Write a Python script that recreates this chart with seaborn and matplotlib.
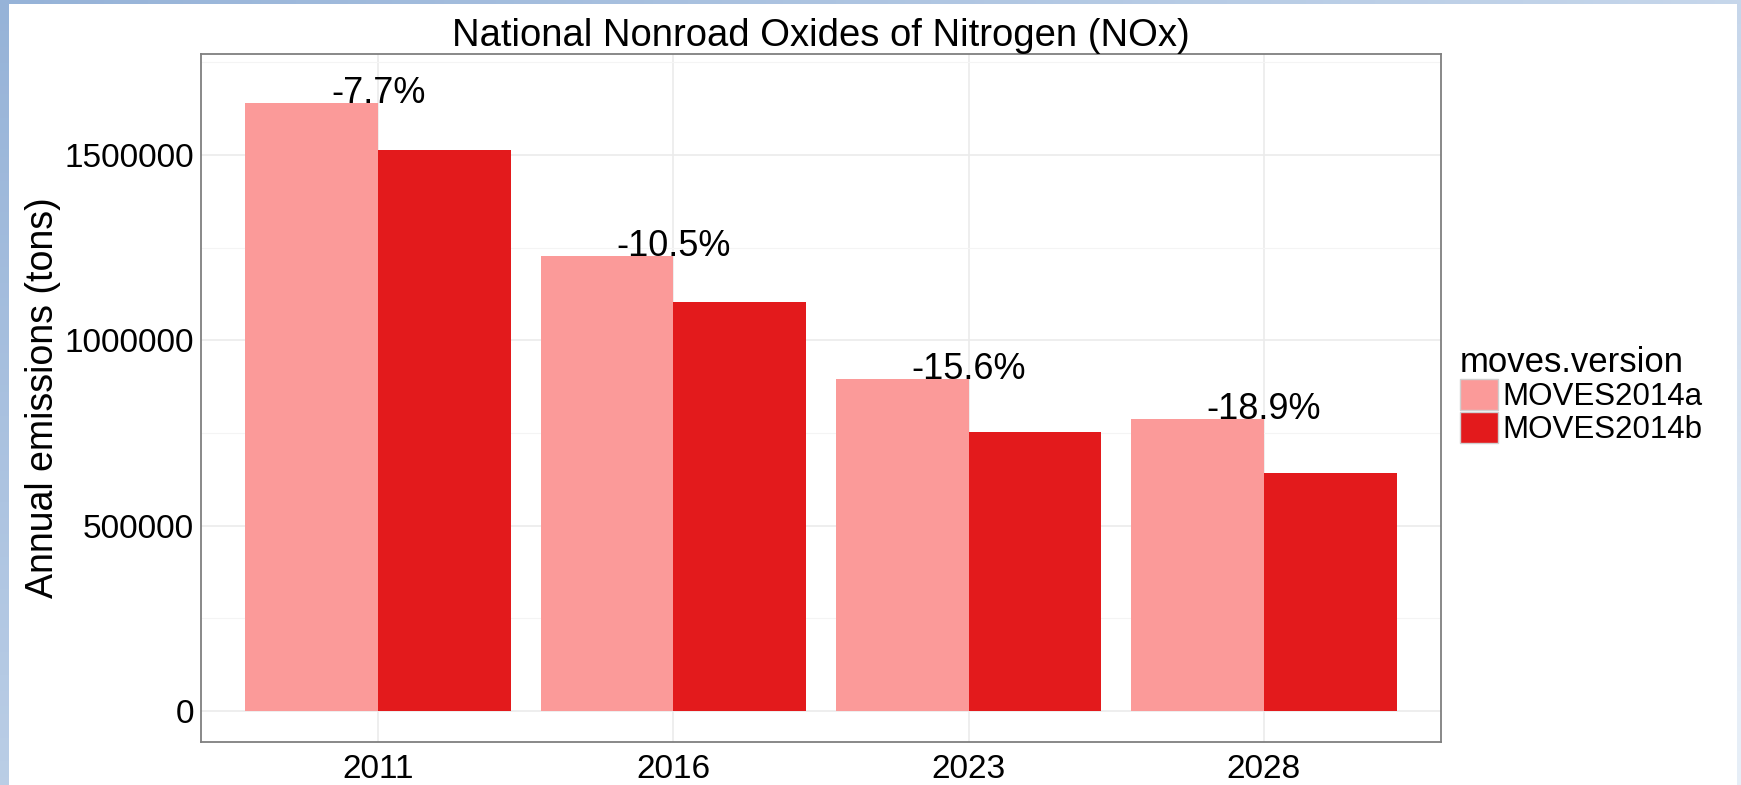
import numpy as np
import pandas as pd
import seaborn as sns
import matplotlib
matplotlib.use("Agg")
import matplotlib.pyplot as plt
from matplotlib.patches import Rectangle
from matplotlib.ticker import MultipleLocator, FuncFormatter

years = ["2011", "2016", "2023", "2028"]
versions = ["MOVES2014a", "MOVES2014b"]

# annual NOx emissions (tons)
moves_a = [1639000, 1227000, 895000, 787000]
moves_b = [1513000, 1102000, 753000, 641000]
pct_labels = ["-7.7%", "-10.5%", "-15.6%", "-18.9%"]

colors = ["#FB9A99", "#E31A1C"]

df = pd.DataFrame({
    "year": years * 2,
    "emissions": moves_a + moves_b,
    "moves.version": [versions[0]] * 4 + [versions[1]] * 4,
})

sns.set_style("white")
plt.rcParams["font.family"] = ["Liberation Sans", "DejaVu Sans"]
plt.rcParams["text.color"] = "black"
plt.rcParams["axes.labelcolor"] = "black"

W, H = 1741, 785
fig = plt.figure(figsize=(W / 100, H / 100), dpi=100)

# slide-like blue gradient frame behind a white page
bg = fig.add_axes([0, 0, 1, 1], zorder=-20)
gx, gy = np.meshgrid(np.linspace(0, 1, 200), np.linspace(0, 1, 100))
t = np.clip(0.6 * gx + 0.45 * gy, 0, 1)[..., None]
c0 = np.array([0x96, 0xb3, 0xd8]) / 255
c1 = np.array([0xe6, 0xee, 0xf7]) / 255
bg.imshow(c0 * (1 - t) + c1 * t, aspect="auto", extent=[0, 1, 0, 1], origin="upper")
bg.set_axis_off()
fig.patches.append(Rectangle((9 / W, 0), (1737 - 9) / W, (H - 4) / H,
                             transform=fig.transFigure, facecolor="white",
                             edgecolor="none", zorder=-10))

ax = fig.add_axes([201 / W, (H - 742) / H, (1441 - 201) / W, (742 - 54) / H])
ax.set_facecolor("white")

sns.barplot(data=df, x="year", y="emissions", hue="moves.version",
            hue_order=versions, order=years, palette=colors, saturation=1,
            width=0.9, gap=0, edgecolor="none", ax=ax)

for i, lab in enumerate(pct_labels):
    ax.text(i, moves_a[i], lab, ha="center", va="baseline", fontsize=26,
            color="black")

ax.set_xlim(-0.6, 3.6)
ax.set_ylim(-83600, 1772000)
ax.yaxis.set_major_locator(MultipleLocator(500000))
ax.yaxis.set_minor_locator(MultipleLocator(250000))
ax.yaxis.set_major_formatter(FuncFormatter(lambda v, p: f"{int(v)}"))

ax.set_axisbelow(True)
ax.grid(which="major", color="#ebebeb", linewidth=1.2)
ax.grid(which="minor", axis="y", color="#f4f4f4", linewidth=0.8)

for s in ax.spines.values():
    s.set_visible(True)
    s.set_color("#7f7f7f")
    s.set_linewidth(1.3)

ax.tick_params(which="major", length=3, width=1, color="#333333",
               labelsize=24, labelcolor="black", pad=2)
ax.tick_params(which="minor", length=0)
ax.tick_params(axis="x", pad=6)

ax.set_xlabel("")
ax.set_ylabel("Annual emissions (tons)", fontsize=27, color="black")
ax.yaxis.set_label_coords((61 - 201) / 1240, 0.5)
ax.set_title("National Nonroad Oxides of Nitrogen (NOx)", fontsize=27.5,
             pad=6, color="black")

handles, labels = ax.get_legend_handles_labels()
ax.get_legend().remove()
for h in handles:
    h.set_edgecolor("#d0d0d0")
    h.set_linewidth(1)
leg = fig.legend(handles, labels, title="moves.version", loc="upper left",
                 bbox_to_anchor=(1460 / W, 1 - 346 / H), frameon=False,
                 fontsize=22.5, title_fontsize=25, handlelength=1.2,
                 handleheight=1.15, labelspacing=0, handletextpad=0.15,
                 borderpad=0, borderaxespad=0, alignment="left")
for txt in leg.get_texts():
    txt.set_color("black")
leg.get_title().set_color("black")

fig.savefig("out.png", dpi=100)
